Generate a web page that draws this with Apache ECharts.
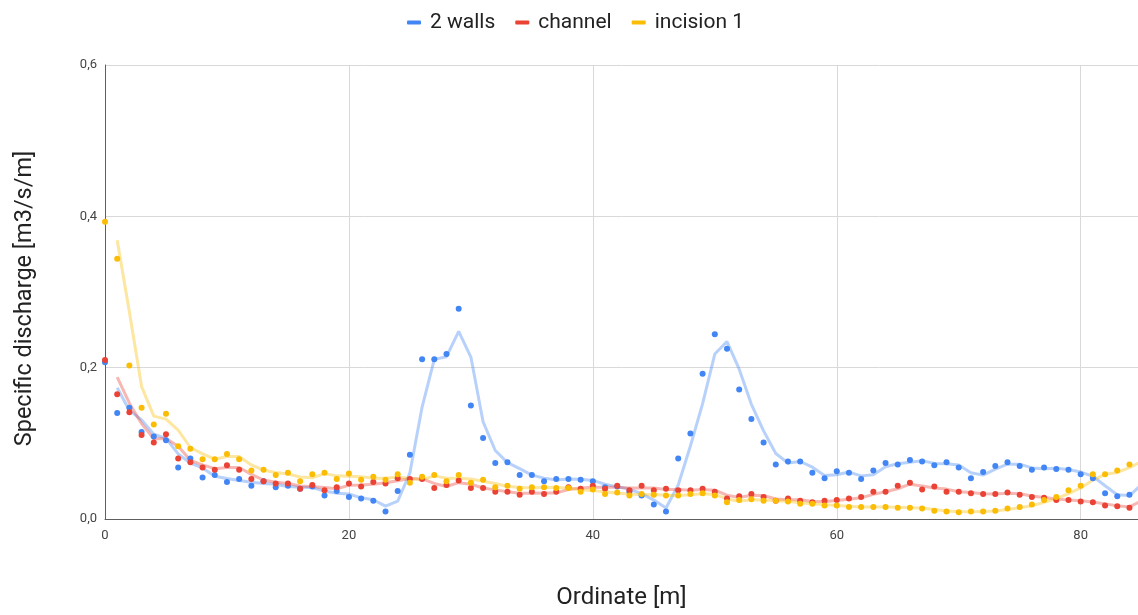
<!DOCTYPE html>
<html>
<head>
<meta charset="utf-8">
<script src="https://cdn.jsdelivr.net/npm/echarts@6/dist/echarts.min.js"></script>
<style>
  html, body { margin: 0; padding: 0; background: #fff; }
  #main { width: 1138px; height: 615px; }
</style>
</head>
<body>
<div id="main"></div>
<script>
// ordinate [m]
var ordinate = [0, 1, 2, 3, 4, 5, 6, 7, 8, 9, 10, 11, 12, 13, 14, 15, 16, 17, 18, 19,
    20, 21, 22, 23, 24, 25, 26, 27, 28, 29, 30, 31, 32, 33, 34, 35, 36, 37, 38, 39,
    40, 41, 42, 43, 44, 45, 46, 47, 48, 49, 50, 51, 52, 53, 54, 55, 56, 57, 58, 59,
    60, 61, 62, 63, 64, 65, 66, 67, 68, 69, 70, 71, 72, 73, 74, 75, 76, 77, 78, 79,
    80, 81, 82, 83, 84, 85];

// specific discharge [m3/s/m]
var walls = [0.207, 0.140, 0.147, 0.115, 0.109, 0.104, 0.068, 0.080, 0.055, 0.058,
    0.049, 0.053, 0.044, 0.050, 0.042, 0.044, 0.040, 0.043, 0.031, 0.037,
    0.029, 0.027, 0.024, 0.010, 0.037, 0.085, 0.211, 0.211, 0.218, 0.278,
    0.150, 0.107, 0.074, 0.075, 0.058, 0.058, 0.050, 0.053, 0.053, 0.052,
    0.050, 0.042, 0.043, 0.036, 0.031, 0.019, 0.010, 0.080, 0.113, 0.192,
    0.244, 0.225, 0.171, 0.132, 0.101, 0.072, 0.076, 0.076, 0.061, 0.054,
    0.063, 0.061, 0.053, 0.064, 0.074, 0.072, 0.078, 0.076, 0.071, 0.075,
    0.068, 0.054, 0.062, 0.070, 0.075, 0.070, 0.065, 0.068, 0.066, 0.065,
    0.059, 0.054, 0.034, 0.030, 0.032, 0.059];

var channel = [0.210, 0.165, 0.141, 0.111, 0.101, 0.112, 0.080, 0.075, 0.068, 0.065,
    0.071, 0.065, 0.053, 0.050, 0.047, 0.047, 0.040, 0.045, 0.038, 0.042,
    0.047, 0.043, 0.049, 0.047, 0.054, 0.053, 0.053, 0.041, 0.045, 0.051,
    0.041, 0.041, 0.036, 0.036, 0.032, 0.036, 0.033, 0.036, 0.042, 0.040,
    0.044, 0.040, 0.044, 0.038, 0.044, 0.038, 0.040, 0.038, 0.038, 0.040,
    0.036, 0.027, 0.030, 0.033, 0.029, 0.024, 0.027, 0.024, 0.022, 0.024,
    0.025, 0.027, 0.029, 0.036, 0.036, 0.044, 0.048, 0.039, 0.043, 0.036,
    0.036, 0.034, 0.033, 0.033, 0.035, 0.032, 0.029, 0.028, 0.025, 0.025,
    0.023, 0.022, 0.018, 0.017, 0.015, 0.033];

var incision = [0.393, 0.344, 0.203, 0.147, 0.125, 0.139, 0.096, 0.093, 0.079, 0.079,
    0.086, 0.079, 0.064, 0.065, 0.058, 0.061, 0.050, 0.059, 0.061, 0.053,
    0.060, 0.052, 0.056, 0.052, 0.059, 0.048, 0.056, 0.058, 0.050, 0.058,
    0.048, 0.052, 0.042, 0.044, 0.040, 0.042, 0.042, 0.041, 0.041, 0.036,
    0.039, 0.033, 0.035, 0.031, 0.033, 0.032, 0.031, 0.031, 0.033, 0.034,
    0.031, 0.022, 0.025, 0.026, 0.024, 0.024, 0.023, 0.020, 0.020, 0.018,
    0.018, 0.016, 0.016, 0.016, 0.016, 0.015, 0.015, 0.014, 0.011, 0.010,
    0.009, 0.010, 0.010, 0.011, 0.014, 0.016, 0.019, 0.025, 0.029, 0.038,
    0.044, 0.059, 0.059, 0.064, 0.072, 0.080];

var names = ['2 walls', 'channel', 'incision 1'];
var colors = ['#4285F4', '#EA4335', '#FBBC04'];

(function() {
    var myChart = echarts.init(document.getElementById('main'));

    // points
    function pairs(ys) {
        return ys.map(function(y, i) { return [ordinate[i], y]; });
    }
    // trendline: moving average over 2 points
    function movingAvg(ys) {
        var out = [];
        for (var i = 1; i < ys.length; i++) {
            out.push([ordinate[i], (ys[i - 1] + ys[i]) / 2]);
        }
        return out;
    }

    var all = [walls, channel, incision];
    var series = [];
    all.forEach(function(ys, k) {
        series.push({
            name: names[k],
            type: 'line',
            data: movingAvg(ys),
            showSymbol: false,
            symbol: 'none',
            silent: true,
            lineStyle: { color: colors[k], width: 3, opacity: 0.38 },
            itemStyle: { color: colors[k] },
            z: 2
        });
    });
    all.forEach(function(ys, k) {
        series.push({
            name: names[k],
            type: 'scatter',
            data: pairs(ys),
            symbolSize: 6,
            itemStyle: { color: colors[k], opacity: 1 },
            z: 3
        });
    });

    var option = {
        animation: false,
        textStyle: { fontFamily: 'Roboto' },
        color: colors,
        legend: {
            top: 7,
            left: 402,
            icon: 'roundRect',
            itemWidth: 14,
            itemHeight: 4,
            itemGap: 20,
            data: names,
            textStyle: { fontSize: 21, color: '#222', fontFamily: 'Roboto', padding: [0, 0, 0, 4] }
        },
        grid: { left: 105, right: 0, top: 65, bottom: 94, containLabel: false },
        xAxis: {
            type: 'value',
            min: 0,
            max: 84.7,
            interval: 20,
            name: 'Ordinate [m]',
            nameLocation: 'middle',
            nameGap: 67,
            nameTextStyle: { fontSize: 24, color: '#222', fontFamily: 'Roboto' },
            axisLine: { show: true, lineStyle: { color: '#5f5f5f', width: 1 } },
            axisTick: { show: false },
            axisLabel: {
                color: '#444', fontSize: 13, margin: 10,
                showMaxLabel: false,
                formatter: function(v) { return v % 20 === 0 ? String(v) : ''; }
            },
            splitLine: { show: true, lineStyle: { color: '#d9d9d9', width: 1 } }
        },
        yAxis: {
            type: 'value',
            min: 0,
            max: 0.6,
            interval: 0.2,
            name: 'Specific discharge [m3/s/m]',
            nameLocation: 'middle',
            nameGap: 68,
            nameTextStyle: { fontSize: 23.5, color: '#222', fontFamily: 'Roboto', padding: [0, 13, 0, 0] },
            axisLine: { show: true, lineStyle: { color: '#5f5f5f', width: 1 } },
            axisTick: { show: false },
            axisLabel: {
                color: '#444', fontSize: 13, margin: 8,
                formatter: function(v) { return v.toFixed(1).replace('.', ','); }
            },
            splitLine: { show: true, lineStyle: { color: '#d9d9d9', width: 1 } }
        },
        series: series
    };

    myChart.setOption(option);
})();
</script>
</body>
</html>
